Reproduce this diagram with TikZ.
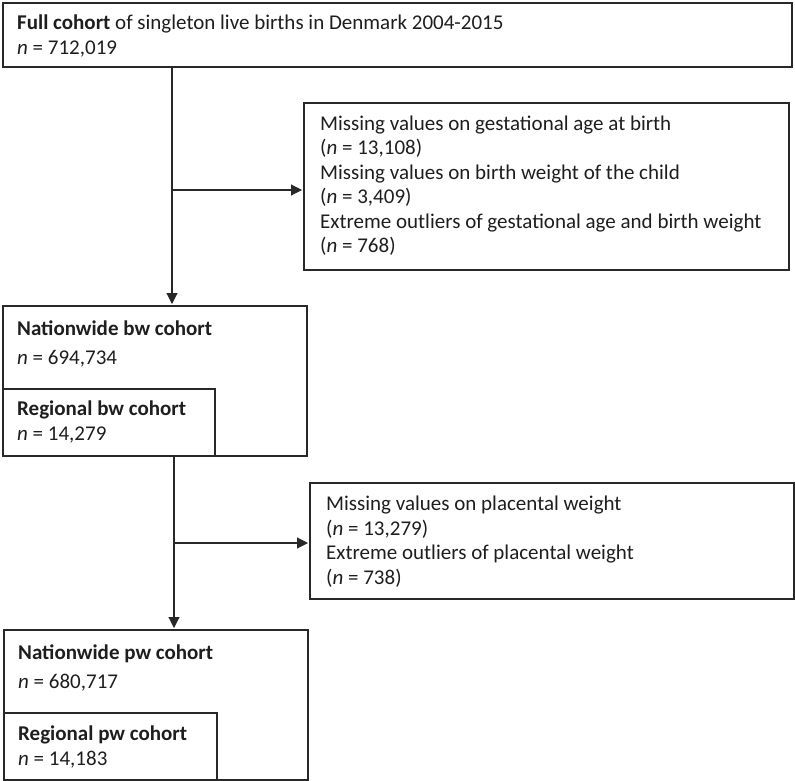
\documentclass[tikz,border=0pt]{standalone}
\usepackage{fontspec}
\setmainfont{Carlito}
\usetikzlibrary{arrows.meta}
\definecolor{ink}{RGB}{30,30,30}
\definecolor{edge}{RGB}{40,40,40}
\tikzset{
  box/.style={draw=edge, line width=2pt, rectangle, inner sep=0pt, anchor=north west, fill=none},
  txt/.style={anchor=base west, inner sep=0pt, text=ink, font=\fontsize{21}{25}\selectfont},
  conn/.style={draw=edge, line width=1.1pt},
  arr/.style={conn, -{Triangle[width=11pt,length=11pt]}, shorten >=1pt}
}
\begin{document}
\begin{tikzpicture}[x=1pt,y=-1pt]
\useasboundingbox (0,0) rectangle (795,780);
% boxes
\node[box, minimum width=789pt, minimum height=64pt] (full) at (2,2) {};
\node[box, minimum width=485pt, minimum height=167pt] (ex1) at (303,102) {};
\node[box, minimum width=304pt, minimum height=150pt] (nbw) at (2,305) {};
\node[box, minimum width=212pt, minimum height=67pt] (rbw) at (2,388) {};
\node[box, minimum width=484pt, minimum height=116pt] (ex2) at (309,482) {};
\node[box, minimum width=304pt, minimum height=150pt] (npw) at (3,629) {};
\node[box, minimum width=213pt, minimum height=67pt] (rpw) at (3,712) {};
% texts
\node[txt] (fa) at (17,29) {\textbf{Full cohort} of singleton live births in Denmark 2004-2015};
\node[txt] (fb) at (17,54) {\textit{n} = 712,019};
\node[txt] (e1a) at (320,130) {Missing values on gestational age at birth};
\node[txt] (e1b) at (320,154.5) {(\textit{n} = 13,108)};
\node[txt] (e1c) at (320,179) {Missing values on birth weight of the child};
\node[txt] (e1d) at (320,203.5) {(\textit{n} = 3,409)};
\node[txt] (e1e) at (320,228) {Extreme outliers of gestational age and birth weight};
\node[txt] (e1f) at (320,252.5) {(\textit{n} = 768)};
\node[txt] (na) at (17,335) {\textbf{Nationwide bw cohort}};
\node[txt] (nb) at (17,364) {\textit{n} = 694,734};
\node[txt] (ra) at (17,415) {\textbf{Regional bw cohort}};
\node[txt] (rb) at (17,440) {\textit{n} = 14,279};
\node[txt] (e2a) at (326,510.5) {Missing values on placental weight};
\node[txt] (e2b) at (326,535) {(\textit{n} = 13,279)};
\node[txt] (e2c) at (326,559.5) {Extreme outliers of placental weight};
\node[txt] (e2d) at (326,584) {(\textit{n} = 738)};
\node[txt] (pa) at (18,659) {\textbf{Nationwide pw cohort}};
\node[txt] (pb) at (18,688) {\textit{n} = 680,717};
\node[txt] (qa) at (18,740) {\textbf{Regional pw cohort}};
\node[txt] (qb) at (18,765) {\textit{n} = 14,183};
% connectors
\coordinate (j1) at (172,190);
\coordinate (j2) at (174,543);
\draw[arr] (full.south -| j1) -- (nbw.north -| j1);
\draw[arr] (j1) -- (ex1.west |- j1);
\draw[arr] (nbw.south -| j2) -- (npw.north -| j2);
\draw[arr] (j2) -- (ex2.west |- j2);
\end{tikzpicture}
\end{document}
